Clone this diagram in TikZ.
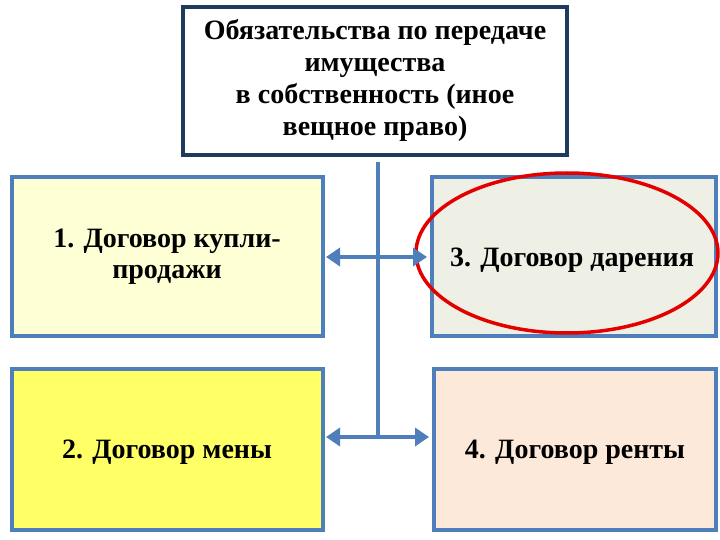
\documentclass[tikz,border=0pt]{standalone}
\usepackage{fontspec}
\setmainfont{Liberation Serif}
\usetikzlibrary{arrows.meta}
\definecolor{bl}{HTML}{4F7FBA}
\definecolor{nv}{HTML}{1F3A5F}
\begin{document}
\begin{tikzpicture}[x=1pt,y=-1pt,
  lbl/.style={font=\bfseries\fontsize{28}{31}\selectfont,align=center},
  conn/.style={draw=bl,line width=4pt},
  dbl/.style={conn,{Triangle[width=18pt,length=14pt]}-{Triangle[width=18pt,length=14pt]}}]
\useasboundingbox (0,0) rectangle (720,540);
\fill[white] (0,0) rectangle (720,540);
\draw[draw=nv,line width=4pt,fill=white] (183,7) rectangle (567,155);
\node[font=\bfseries\fontsize{28}{32}\selectfont,align=center] (top) at (375,80) {Обязательства по передаче\\имущества\\в собственность (иное\\вещное право)};
\draw[bl,line width=4pt,fill={rgb,255:red,255;green,255;blue,213}] (12,177) rectangle (323,336);
\draw[bl,line width=4pt,fill={rgb,255:red,238;green,240;blue,230}] (432,177) rectangle (716,336);
\draw[bl,line width=4pt,fill={rgb,255:red,255;green,255;blue,102}] (12,369) rectangle (323,530);
\draw[bl,line width=4pt,fill={rgb,255:red,253;green,233;blue,217}] (434,369) rectangle (716,530);
\node[lbl] (b1) at (167,257) {1. Договор купли-\\продажи};
\node[lbl] (b3) at (572,260) {3. Договор дарения};
\node[lbl] (b2) at (167,452) {2. Договор мены};
\node[lbl] (b4) at (575,452) {4. Договор ренты};
\draw[red!90!black,line width=3.5pt] (567,253) ellipse (151 and 80);
\coordinate (v0) at (378,162); \coordinate (v1) at (378,437);
\draw[conn] (v0) -- (v1);
\coordinate (l1) at (326,257); \coordinate (r1) at (427,257);
\coordinate (l2) at (326,437); \coordinate (r2) at (429,437);
\draw[dbl] (l1) -- (r1);
\draw[dbl] (l2) -- (r2);
\end{tikzpicture}
\end{document}
